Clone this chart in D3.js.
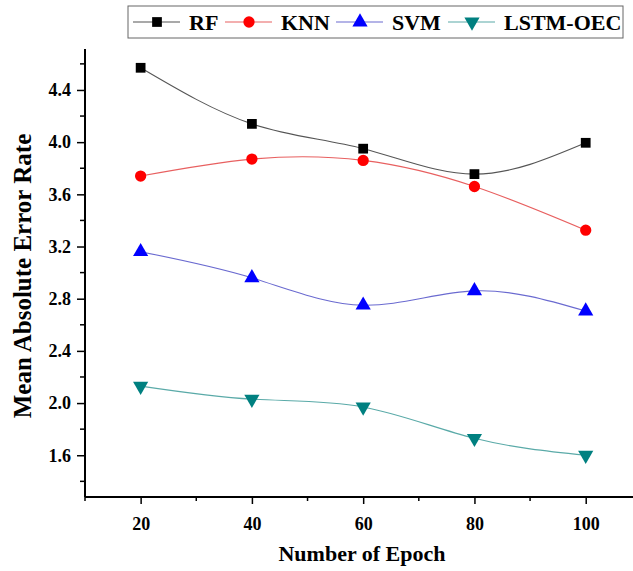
<!DOCTYPE html>
<html><head><meta charset="utf-8">
<script src="https://cdn.jsdelivr.net/npm/d3@7"></script>
<style>body{margin:0;background:#fff}svg{display:block}</style>
</head><body>
<script>
const epochs = [20, 40, 60, 80, 100];
const rf = [4.57, 4.14, 3.95, 3.755, 3.995];
const knn = [3.74, 3.87, 3.86, 3.66, 3.325];
const svm = [3.16, 2.96, 2.75, 2.86, 2.705];
const lstm = [2.13, 2.03, 1.97, 1.73, 1.6];
const seriesNames = ["RF", "KNN", "SVM", "LSTM-OEC"];
const yTicks = [1.6, 2.0, 2.4, 2.8, 3.2, 3.6, 4.0, 4.4];
const xTicks = [20, 40, 60, 80, 100];

const W = 633, H = 571;
const svg = d3.select("body").append("svg").attr("width", W).attr("height", H);
const font = "'Liberation Serif','Times New Roman',serif";

const x = d3.scaleLinear().domain([10, 108.5]).range([85, 633]);
const y = d3.scaleLinear().domain([1.28, 4.714]).range([497, 49]);

const styles = [
  {line: "#555555", fill: "#000000", sym: d3.symbolSquare, size: 95},
  {line: "#e86060", fill: "#ff0000", sym: d3.symbolCircle, size: 100},
  {line: "#6a6ad0", fill: "#0000ff", sym: d3.symbolTriangle, size: 100},
  {line: "#5aaaa8", fill: "#008080", sym: d3.symbolTriangle, size: 100, rot: 180}
];
const data = [rf, knn, svm, lstm];

// axes
const gx = svg.append("g").attr("transform", `translate(0,${y.range()[0]})`)
  .call(d3.axisBottom(x).tickValues(xTicks).tickSize(7).tickPadding(13).tickFormat(d3.format("d")));
gx.append("g").selectAll("line").data([10,30,50,70,90]).join("line")
  .attr("x1", d => x(d)).attr("x2", d => x(d)).attr("y1", 0).attr("y2", 4)
  .attr("stroke", "#000").attr("stroke-width", 1.5);
const gy = svg.append("g").attr("transform", `translate(${x.range()[0]},0)`)
  .call(d3.axisLeft(y).tickValues(yTicks).tickSize(8).tickPadding(6).tickFormat(d3.format(".1f")));
gy.append("g").selectAll("line").data([1.4,1.8,2.2,2.6,3.0,3.4,3.8,4.2,4.6]).join("line")
  .attr("x1", 0).attr("x2", -5).attr("y1", d => y(d)).attr("y2", d => y(d))
  .attr("stroke", "#000").attr("stroke-width", 1.5);
[gx, gy].forEach(g => {
  g.select(".domain").attr("stroke", "#000").attr("stroke-width", 2);
  g.selectAll(".tick line").attr("stroke", "#000").attr("stroke-width", 1.5);
  g.selectAll("text").attr("font-family", font).attr("font-weight", "bold")
    .attr("font-size", 18).attr("fill", "#000");
});
gx.select(".domain").attr("d", `M${x.range()[0]},0H${x.range()[1]}`);
gy.select(".domain").attr("d", `M0,${y.range()[0]}V${y.range()[1]}`);

// lines
const line = d3.line().x((d, i) => x(epochs[i])).y(d => y(d)).curve(d3.curveNatural);
data.forEach((s, k) => {
  svg.append("path").datum(s).attr("d", line).attr("fill", "none")
    .attr("stroke", styles[k].line).attr("stroke-width", 1.1);
});
data.forEach((s, k) => {
  const st = styles[k];
  svg.append("g").selectAll("path").data(s).join("path")
    .attr("d", d3.symbol().type(st.sym).size(st.size))
    .attr("transform", (d, i) => `translate(${x(epochs[i])},${y(d)})` + (st.rot ? ` rotate(${st.rot})` : ""))
    .attr("fill", st.fill);
});

// axis titles
svg.append("text").attr("x", 362).attr("y", 561).attr("text-anchor", "middle")
  .attr("font-family", font).attr("font-weight", "bold").attr("font-size", 22).text("Number of Epoch");
svg.append("text").attr("transform", "translate(31,276) rotate(-90)").attr("text-anchor", "middle")
  .attr("font-family", font).attr("font-weight", "bold").attr("font-size", 25).text("Mean Absolute Error Rate");

// legend
const lg = svg.append("g");
lg.append("rect").attr("x", 128).attr("y", 6).attr("width", 495).attr("height", 32)
  .attr("fill", "#fff").attr("stroke", "#666").attr("stroke-width", 1);
const legX = [133, 225, 336, 448];
seriesNames.forEach((n, k) => {
  const st = styles[k], x0 = legX[k];
  lg.append("line").attr("x1", x0).attr("x2", x0 + 47).attr("y1", 22).attr("y2", 22)
    .attr("stroke", st.line).attr("stroke-width", 1.1);
  lg.append("path").attr("d", d3.symbol().type(st.sym).size(st.size))
    .attr("transform", `translate(${x0 + 24},22)` + (st.rot ? " rotate(180)" : "")).attr("fill", st.fill);
  lg.append("text").attr("x", x0 + 56).attr("y", 30).attr("font-family", font)
    .attr("font-weight", "bold").attr("font-size", 22).text(n);
});
</script>
</body></html>
